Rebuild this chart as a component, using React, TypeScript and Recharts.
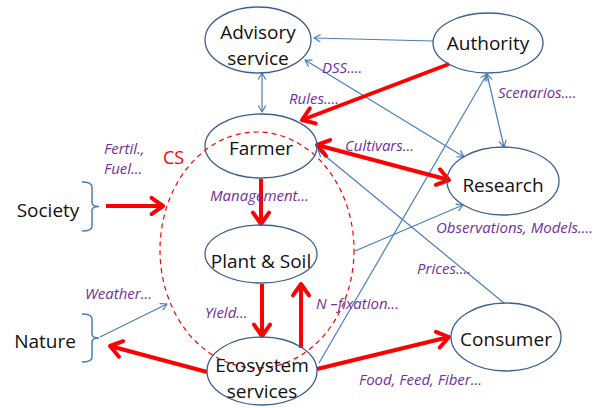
import React from 'react';
import { ScatterChart, Scatter, XAxis, YAxis, ReferenceLine } from 'recharts';

// ---- data ----
const nodeIds = ['advisory', 'authority', 'farmer', 'plant', 'eco', 'research', 'consumer'];
const nodeLabels = [['Advisory', 'service'], ['Authority'], ['Farmer'], ['Plant & Soil'], ['Ecosystem', 'services'], ['Research'], ['Consumer']];
const nodeX = [258, 488, 261, 261, 262, 503, 506];
const nodeY = [40, 43, 146, 254, 371, 181, 337];
const nodeTextY = [45, 43, 148, 261, 378, 185, 339];
const nodeRx = [53, 55, 56, 56, 55, 56, 55];
const nodeRy = [33, 30, 32, 29, 34, 34, 34];

const outsideNames = ['Society', 'Nature'];
const outsideX = [48, 45];
const outsideY = [210, 341];
const braceTop = [182, 314];
const braceBottom = [231, 362];

const flowTexts = ['Fertil.,', 'Fuel...', 'Rules....', 'DSS....', 'Scenarios....', 'Cultivars...', 'Management...', 'Observations, Models....', 'Prices....', 'N \u2013fixation...', 'Weather...', 'Yield...', 'Food, Feed, Fiber...'];
const flowX = [104, 104, 289, 322, 498, 345, 210, 436, 417, 316, 85, 205, 359];
const flowY = [148, 168, 98, 67, 92, 145, 195, 227, 268, 303, 293, 312, 379];

const csLabel = 'CS';
const csCenter = { x: 257, y: 250 };
const csLabelPos = { x: 163, y: 157 };

// arrows: [x1, y1, x2, y2, heads]
const redArrows: [number, number, number, number, string][] = [
  [449, 64, 302, 120, 'end'],
  [317, 145, 449, 180, 'both'],
  [106, 206, 163, 206, 'end'],
  [261, 179, 261, 224, 'end'],
  [262, 284, 262, 336, 'end'],
  [301, 348, 301, 284, 'end'],
  [207, 372, 110, 346, 'end'],
  [317, 369, 449, 337, 'end'],
];
const blueArrows: [number, number, number, number, string][] = [
  [262, 73, 262, 112, 'both'],
  [433, 41, 314, 38, 'end'],
  [487, 74, 504, 147, 'both'],
  [305, 60, 464, 157, 'both'],
  [319, 363, 487, 74, 'end'],
  [504, 303, 318, 150, 'end'],
  [355, 251, 463, 205, 'end'],
  [100, 337, 167, 304, 'end'],
];

const nodeData = nodeIds.map((id, i) => ({ id, lines: nodeLabels[i], x: nodeX[i], y: nodeY[i], ty: nodeTextY[i], rx: nodeRx[i], ry: nodeRy[i] }));
const outsideData = outsideNames.map((n, i) => ({ name: n, x: outsideX[i], y: outsideY[i], top: braceTop[i], bottom: braceBottom[i] }));
const flowData = flowTexts.map((t, i) => ({ text: t, x: flowX[i], y: flowY[i] }));
const csData = [{ x: csCenter.x, y: csCenter.y }];
const csLabelData = [{ x: csLabelPos.x, y: csLabelPos.y, text: csLabel }];

// ---- styles ----
const RED = '#ff0000';
const BLUE = '#4a7ebb';
const NODE_STROKE = '#3d5f8f';
const PURPLE = '#7030a0';
const FONT = '"Open Sans", "Noto Sans", sans-serif';

function makeArrow(color: string, width: number, len: number, phiDeg: number, heads: string) {
  return (p: any) => {
    const { x1, y1, x2, y2 } = p;
    const phi = (phiDeg * Math.PI) / 180;
    const chevron = (tx: number, ty: number, fx: number, fy: number) => {
      const a = Math.atan2(ty - fy, tx - fx);
      const ax = tx - len * Math.cos(a - phi);
      const ay = ty - len * Math.sin(a - phi);
      const bx = tx - len * Math.cos(a + phi);
      const by = ty - len * Math.sin(a + phi);
      return `${ax},${ay} ${tx},${ty} ${bx},${by}`;
    };
    return (
      <g>
        <line x1={x1} y1={y1} x2={x2} y2={y2} stroke={color} strokeWidth={width} />
        {(heads === 'end' || heads === 'both') && (
          <polyline points={chevron(x2, y2, x1, y1)} fill="none" stroke={color} strokeWidth={width} strokeLinejoin="round" strokeLinecap="round" />
        )}
        {(heads === 'start' || heads === 'both') && (
          <polyline points={chevron(x1, y1, x2, y2)} fill="none" stroke={color} strokeWidth={width} strokeLinejoin="round" strokeLinecap="round" />
        )}
      </g>
    );
  };
}

const NodeShape = (p: any) => {
  const { cx, cy, payload } = p;
  const n = payload.lines.length;
  const ty = cy + (payload.ty - payload.y);
  return (
    <g>
      <ellipse cx={cx} cy={cy} rx={payload.rx} ry={payload.ry} fill="none" stroke={NODE_STROKE} strokeWidth={1.3} />
      {payload.lines.map((t: string, i: number) => (
        <text key={i} x={cx} y={ty + (i - (n - 1) / 2) * 26} textAnchor="middle" dominantBaseline="central" fontFamily={FONT} fontSize={19} fill="#111">
          {t}
        </text>
      ))}
    </g>
  );
};

const OutsideShape = (p: any) => {
  const { cx, cy, payload } = p;
  const dy = cy - payload.y;
  const top = payload.top + dy;
  const bot = payload.bottom + dy;
  const mid = (top + bot) / 2;
  const x0 = 82;
  const sx = 92;
  const tip = 99;
  const d = `M${x0},${top} Q${sx},${top} ${sx},${top + 5} L${sx},${mid - 4} Q${sx},${mid} ${tip},${mid} Q${sx},${mid} ${sx},${mid + 4} L${sx},${bot - 5} Q${sx},${bot} ${x0},${bot}`;
  return (
    <g>
      <path d={d} fill="none" stroke={BLUE} strokeWidth={1.5} />
      <text x={cx} y={cy} textAnchor="middle" dominantBaseline="central" fontFamily={FONT} fontSize={19} fill="#111">
        {payload.name}
      </text>
    </g>
  );
};

const FlowShape = (p: any) => {
  const { cx, cy, payload } = p;
  return (
    <text x={cx} y={cy} textAnchor="start" dominantBaseline="central" fontFamily={FONT} fontSize={15} fontStyle="italic" fill={PURPLE}>
      {payload.text}
    </text>
  );
};

const CsShape = (p: any) => {
  const { cx, cy } = p;
  return <ellipse cx={cx} cy={cy} rx={97} ry={118} fill="none" stroke={RED} strokeWidth={1.2} strokeDasharray="5 4" />;
};

const CsLabelShape = (p: any) => {
  const { cx, cy, payload } = p;
  return (
    <text x={cx} y={cy} textAnchor="start" dominantBaseline="central" fontFamily={FONT} fontSize={18} fill={RED}>
      {payload.text}
    </text>
  );
};

export default function App() {
  return (
    <div style={{ position: 'absolute', left: 0, top: 0, width: 608, height: 408, background: '#fff' }}>
      <ScatterChart width={608} height={408} margin={{ top: 0, right: 0, bottom: 0, left: 0 }}>
        <XAxis type="number" dataKey="x" domain={[0, 608]} allowDataOverflow hide />
        <YAxis type="number" dataKey="y" domain={[0, 408]} allowDataOverflow reversed hide />
        {blueArrows.map((a, i) => (
          <ReferenceLine key={'b' + i} segment={[{ x: a[0], y: a[1] }, { x: a[2], y: a[3] }]} ifOverflow="visible" shape={makeArrow(BLUE, 1.2, 7, 30, a[4])} />
        ))}
        {redArrows.map((a, i) => (
          <ReferenceLine key={'r' + i} segment={[{ x: a[0], y: a[1] }, { x: a[2], y: a[3] }]} ifOverflow="visible" shape={makeArrow(RED, 4, 14, 35, a[4])} />
        ))}
        <Scatter data={csData} shape={CsShape} isAnimationActive={false} />
        <Scatter data={nodeData} shape={NodeShape} isAnimationActive={false} />
        <Scatter data={outsideData} shape={OutsideShape} isAnimationActive={false} />
        <Scatter data={flowData} shape={FlowShape} isAnimationActive={false} />
        <Scatter data={csLabelData} shape={CsLabelShape} isAnimationActive={false} />
      </ScatterChart>
    </div>
  );
}
